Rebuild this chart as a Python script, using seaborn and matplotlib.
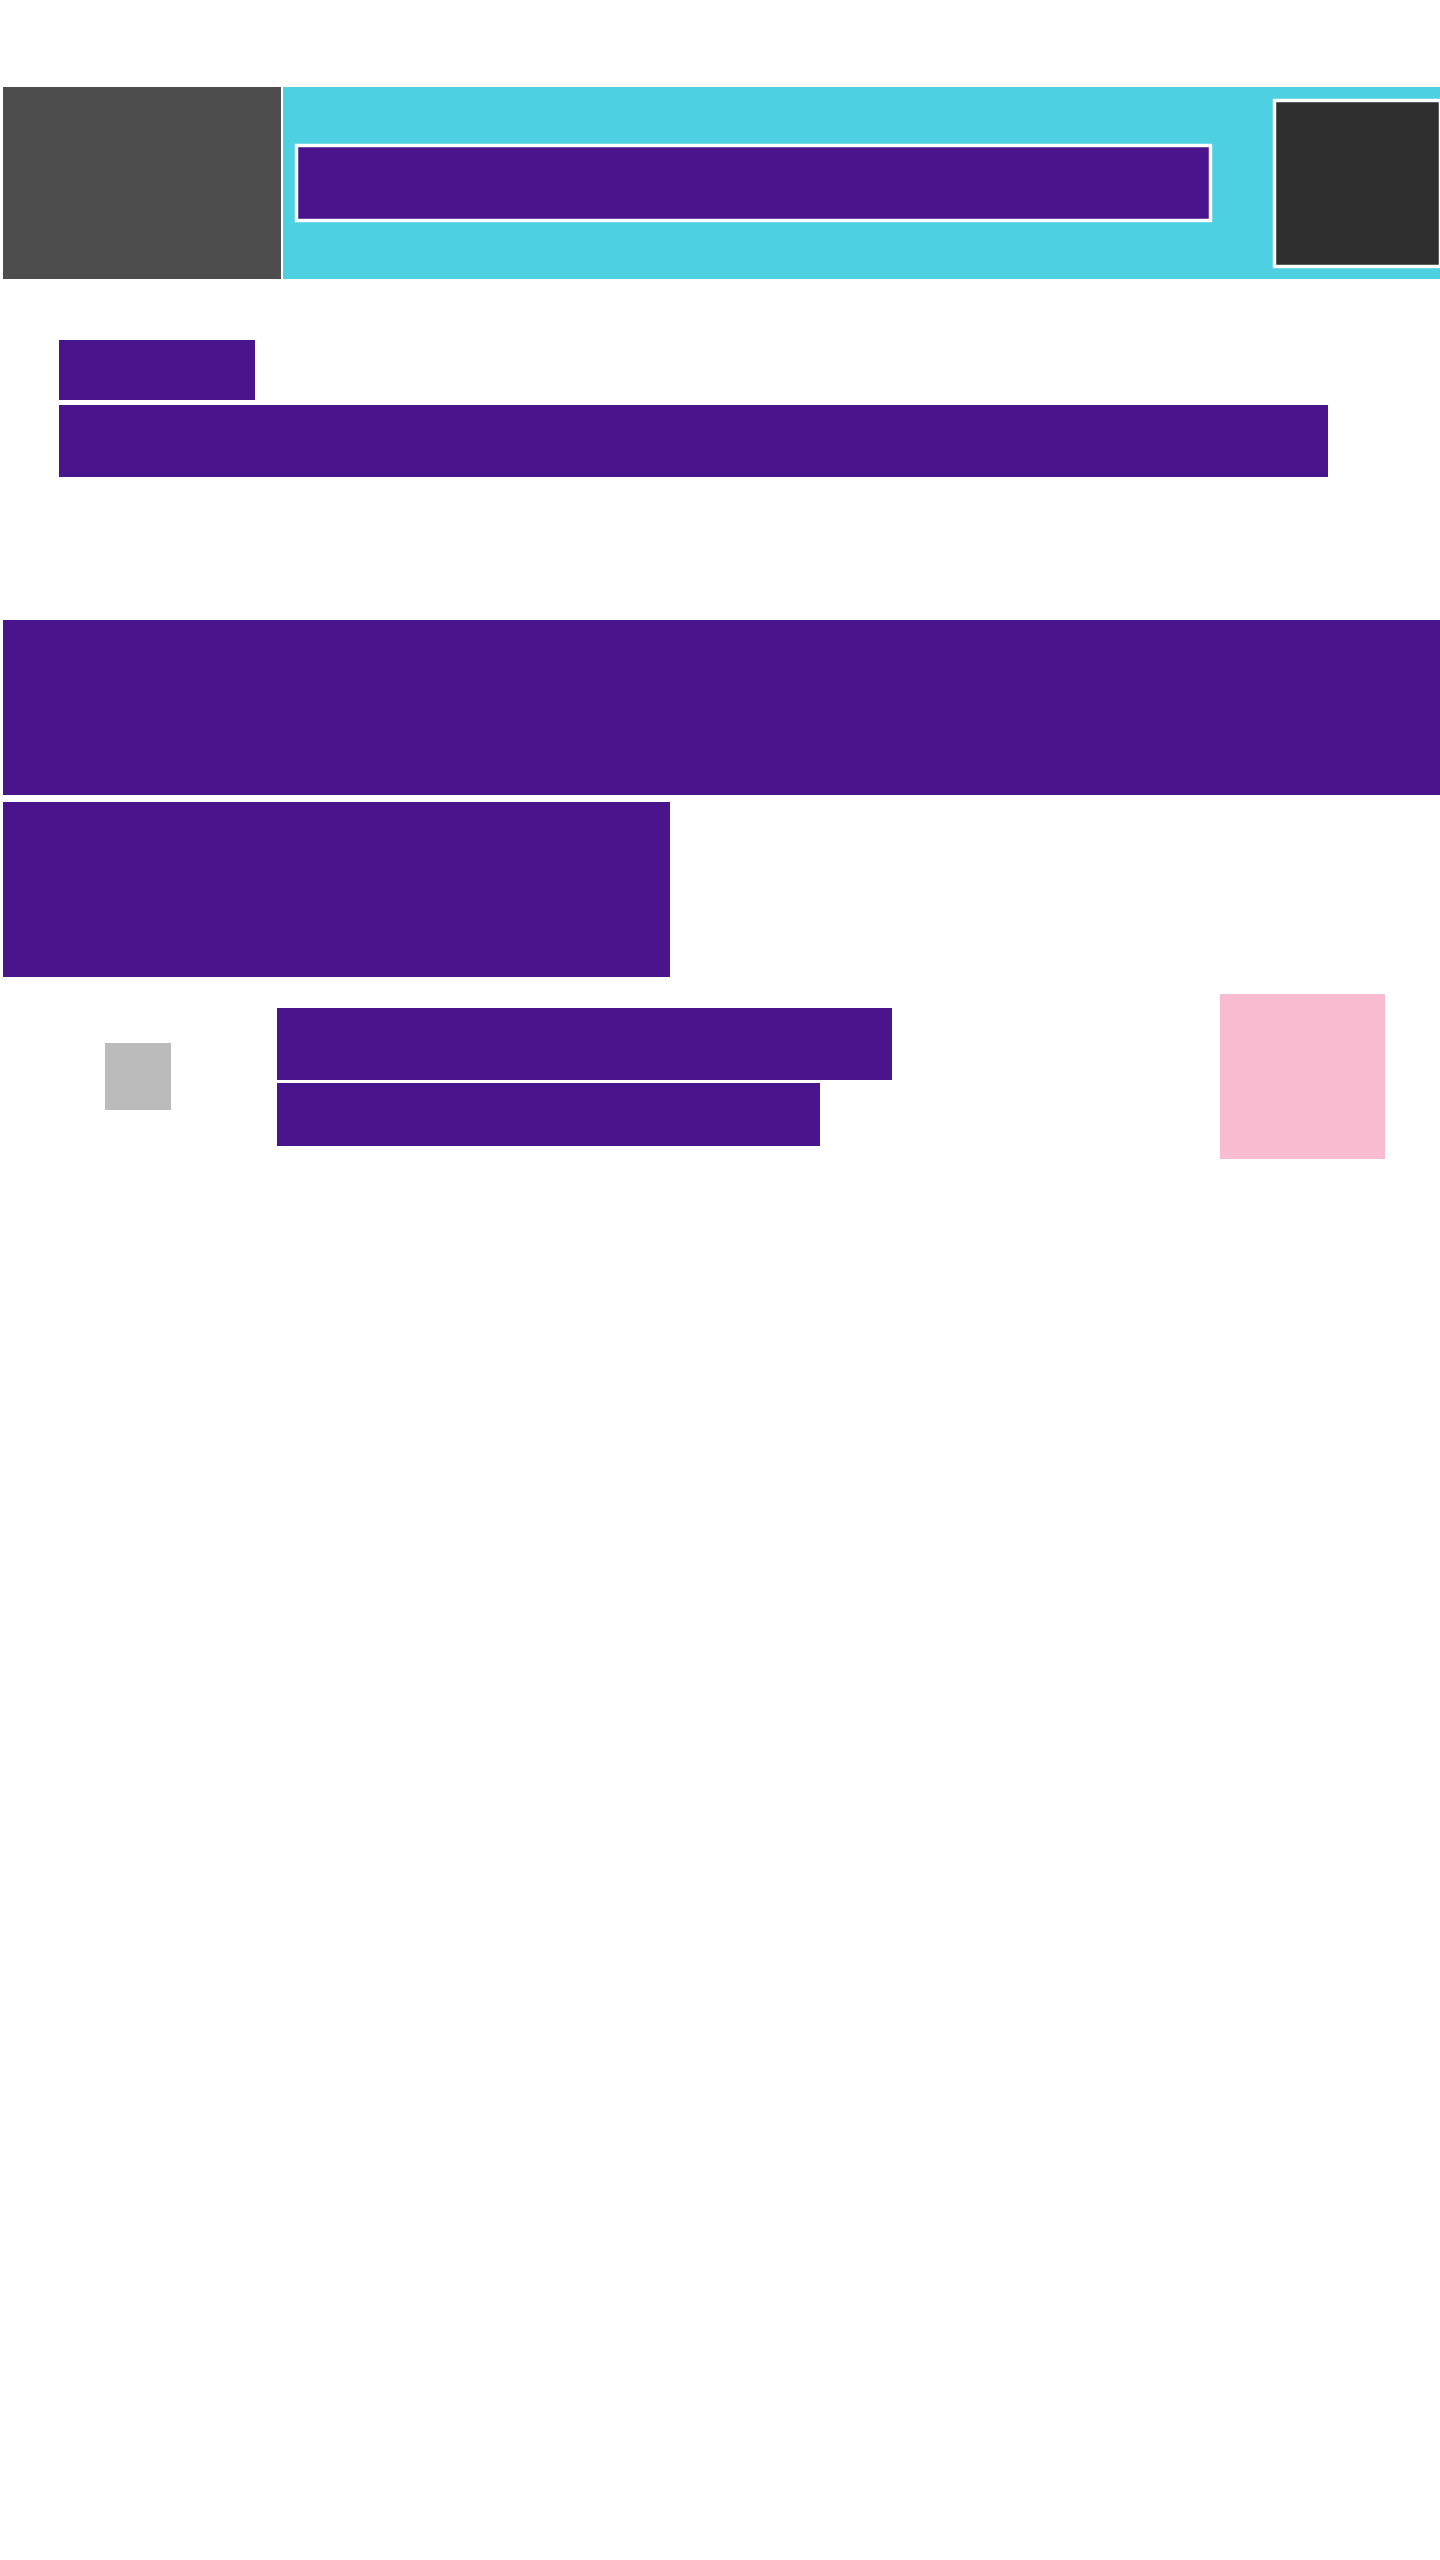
import matplotlib
matplotlib.use("Agg")
import matplotlib.pyplot as plt
import seaborn as sns

sns.set_theme(style="white")

# block layout (pixels, origin top-left)
names = ["side", "header", "title", "icon", "tag", "subtitle", "hero1", "hero2",
         "avatar", "line1", "line2", "badge"]
left = [3, 283, 296, 1274, 59, 59, 3, 3, 105, 277, 277, 1220]
top = [87, 87, 145, 100, 340, 405, 620, 802, 1043, 1008, 1083, 994]
width = [278, 1157, 914, 166, 196, 1269, 1437, 667, 66, 615, 543, 165]
height = [192, 192, 75, 166, 60, 72, 175, 175, 67, 72, 63, 165]
colors = ["#4d4d4d", "#4dd0e1", "#4a148c", "#2f2f2f", "#4a148c", "#4a148c",
          "#4a148c", "#4a148c", "#bbbbbb", "#4a148c", "#4a148c", "#f8bbd0"]
edges = ["none", "none", "white", "white", "none", "none", "none", "none",
         "none", "none", "none", "none"]

fig = plt.figure(figsize=(14.4, 25.6), dpi=100)
ax = fig.add_axes([0, 0, 1, 1])
ax.bar(left, height, width=width, bottom=top, align="edge",
       color=colors, edgecolor=edges, linewidth=2.5)
ax.set_xlim(0, 1440)
ax.set_ylim(2560, 0)
ax.axis("off")
fig.savefig("out.png", dpi=100, facecolor="white")
